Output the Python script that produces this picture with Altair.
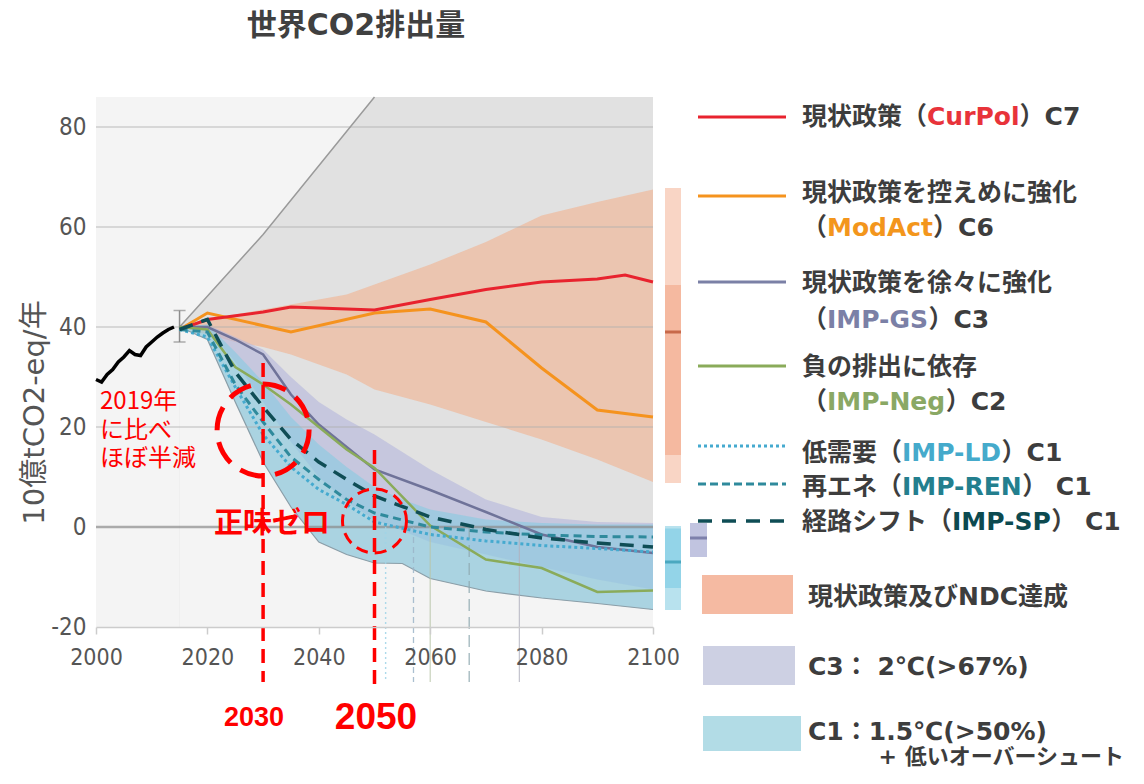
import altair as alt
import pandas as pd

# ---------------- data ----------------
hist_years = list(range(2000, 2015))
hist_vals = [29.5, 29.0, 30.5, 31.5, 33.0, 34.0, 35.3, 34.5, 34.3, 36.0, 37.0, 38.0, 38.8, 39.5, 40.0]

err_year = [2015]
err_lo = [37.0]
err_hi = [43.3]

gray_years = [2015, 2030, 2050, 2100]
gray_hi = [40.0, 58.5, 86.0, 86.0]

band_years = [2015, 2020, 2025, 2030, 2035, 2040, 2045, 2050, 2060, 2070, 2080, 2090, 2100]
ndc_hi = [40, 41.5, 42.5, 43.5, 44.5, 45.5, 46.5, 48.5, 52.5, 57.0, 62.3, 65.0, 67.5]
ndc_lo = [40, 38.5, 37.0, 36.0, 34.5, 32.5, 30.5, 27.5, 24.5, 21.0, 17.5, 13.5, 9.0]
c3_hi = [40, 40.5, 38.0, 35.5, 30.0, 25.0, 21.5, 18.5, 11.5, 5.5, 2.0, 1.0, 0.8]
c3_lo = [40, 39.5, 33.0, 25.0, 17.0, 10.0, 5.0, 1.5, -3.0, -5.5, -8.0, -10.5, -12.5]

c1_years = [2015, 2020, 2025, 2030, 2035, 2040, 2045, 2050, 2055, 2060, 2070, 2080, 2090, 2100]
c1_hi = [40, 40.5, 35.0, 29.0, 22.0, 16.5, 12.0, 8.0, 5.5, 3.5, 1.5, 0.8, 0.5, 0.5]
c1_lo = [40, 37.5, 25.0, 13.0, 4.0, -3.0, -5.5, -7.2, -7.3, -10.3, -12.8, -14.2, -15.3, -16.5]

curpol_years = [2015, 2020, 2030, 2035, 2040, 2050, 2060, 2070, 2080, 2090, 2095, 2100]
curpol_vals = [39.5, 41.5, 43.0, 44.0, 43.8, 43.4, 45.5, 47.5, 49.0, 49.6, 50.4, 49.0]
modact_years = [2015, 2020, 2035, 2050, 2060, 2070, 2080, 2090, 2100]
modact_vals = [39.5, 42.8, 39.0, 42.8, 43.6, 41.0, 31.8, 23.4, 22.0]
path_years = band_years
gs_vals = [40, 40, 37.5, 34.5, 26.5, 20.5, 16.0, 11.5, 7.4, 3.0, -1.5, -4.0, -5.2]
neg_vals = [40, 39.5, 32.0, 28.5, 24.5, 20.0, 15.5, 11.8, 0.3, -6.5, -8.2, -13.0, -12.7]
ld_vals = [39.5, 38.0, 28.0, 18.5, 12.0, 7.5, 4.5, 1.0, -1.5, -2.8, -3.7, -4.3, -5.0]
ren_vals = [39.5, 39.0, 28.5, 21.0, 14.0, 9.5, 5.5, 2.8, 0.0, -1.0, -1.6, -1.9, -2.0]
sp_vals = [39.5, 41.5, 31.0, 24.0, 17.5, 13.0, 9.5, 6.2, 2.0, -0.5, -2.2, -3.2, -4.0]

netzero_years = [2052, 2057, 2060, 2067, 2076]

# 2100 distributions (side bars): NDC, C1, C3
dist_p5 = [8.8, -16.6, -6.0]
dist_p25 = [14.4, -12.2, -6.0]
dist_p50 = [39.0, -7.0, -2.2]
dist_p75 = [48.4, -0.3, 0.8]
dist_p95 = [67.8, 0.2, 0.8]

x_ticks = [2000, 2020, 2040, 2060, 2080, 2100]
y_ticks = [-20, 0, 20, 40, 60, 80]

# ---------------- layout ----------------
W, H = 557, 530
PAD_L, PAD_T = 88, 89
PAD_R = 1128 - PAD_L - W
PAD_B = 762 - PAD_T - H
X_DOM = [2000, 2100]
Y_DOM = [-20, 86]
OX, OY = 8 + PAD_L, 8 + PAD_T


def yr(px):
    return X_DOM[0] + (px - OX) * (X_DOM[1] - X_DOM[0]) / W


def vl(py):
    return Y_DOM[1] - (py - OY) * (Y_DOM[1] - Y_DOM[0]) / H


LBL_FONT = "Liberation Sans Narrow, DejaVu Sans Condensed, sans-serif"
JP = "Noto Sans CJK JP"
MIX = "DejaVu Sans, Noto Sans CJK JP"

XS = alt.Scale(domain=X_DOM, nice=False, zero=False)
YS = alt.Scale(domain=Y_DOM, nice=False, zero=False)
XAX = alt.Axis(values=x_ticks, title=None, grid=False, labelFont=LBL_FONT, labelFontSize=23,
               labelColor="#555555", tickColor="#cccccc", tickSize=7, tickWidth=1.5,
               domainColor="#cccccc", domainWidth=1.5, labelPadding=12, labelFlush=False,
               labelExpr="'' + datum.value", zindex=1)
YAX = alt.Axis(values=y_ticks, title="10億tCO2-eq/年", grid=False, ticks=False, domain=False,
               labelFont=LBL_FONT, labelFontSize=24, labelColor="#555555", labelPadding=10,
               labelExpr="'' + datum.value",
               titleFont=MIX, titleFontSize=29, titleFontWeight="normal", titleColor="#555555",
               titleAngle=270, titleX=-62, titleY=315, titleAlign="center", titleBaseline="middle",
               zindex=1)


def X(f):
    return alt.X(f, type="quantitative", scale=XS, axis=XAX)


def Y(f):
    return alt.Y(f, type="quantitative", scale=YS, axis=YAX)


layers = []

# gray full range
gray_df = pd.DataFrame({"year": gray_years, "hi": gray_hi})
layers.append(alt.Chart(gray_df).mark_area(color="#e1e1e1").encode(x=X("year"), y=Y("hi"), y2=alt.datum(-20)))
c1_df = pd.DataFrame({"year": c1_years, "hi": c1_hi, "lo": c1_lo})
layers.append(alt.Chart(c1_df).mark_area(color="#f4f4f4").encode(x=X("year"), y=Y("lo"), y2=alt.datum(-20)))

band_df = pd.DataFrame({"year": band_years, "ndc_hi": ndc_hi, "ndc_lo": ndc_lo, "c3_hi": c3_hi, "c3_lo": c3_lo})
layers.append(alt.Chart(band_df).mark_area(color="#efb595", opacity=0.65).encode(
    x=X("year"), y=Y("ndc_hi"), y2="ndc_lo"))
layers.append(alt.Chart(band_df).mark_area(color="#b4b6dc", opacity=0.6).encode(
    x=X("year"), y=Y("c3_hi"), y2="c3_lo"))
layers.append(alt.Chart(c1_df).mark_area(color="#8ccbe0", opacity=0.65).encode(
    x=X("year"), y=Y("hi"), y2="lo"))
layers.append(alt.Chart(c1_df).mark_line(color="#8b9ea8", strokeWidth=1.2).encode(x=X("year"), y=Y("lo")))

# grid lines and zero line
grid_df = pd.DataFrame({"v": [t for t in y_ticks if t > 0]})
layers.append(alt.Chart(grid_df).mark_rule(color="#b0b0b0", opacity=0.55, strokeWidth=1.5).encode(y=Y("v")))
layers.append(alt.Chart(pd.DataFrame({"v": [0]})).mark_rule(color="#8a8a8a", opacity=0.7, strokeWidth=2.5).encode(y=Y("v")))

# gray upper edge line
layers.append(alt.Chart(gray_df.iloc[:3]).mark_line(color="#9a9a9a", strokeWidth=1.5).encode(x=X("year"), y=Y("hi")))

# net-zero year markers
nz_styles = [("#9fd3e6", [2, 3], 1.4), ("#9bb4c8", [6, 4], 1.3), ("#b8c4a8", None, 1.1),
             ("#8fa9b0", [12, 6], 1.3), ("#b0b0be", None, 1.1)]
for yv, (col, dash, sw) in zip(netzero_years, nz_styles):
    kw = dict(color=col, strokeWidth=sw, opacity=0.85)
    if dash:
        kw["strokeDash"] = dash
    d = pd.DataFrame({"year": [yv], "top": [0.0], "bot": [vl(682)]})
    layers.append(alt.Chart(d).mark_rule(**kw).encode(x=X("year"), y=Y("top"), y2="bot"))

# error bar 2015
err_df = pd.DataFrame({"year": err_year, "lo": err_lo, "hi": err_hi})
layers.append(alt.Chart(err_df).mark_rule(color="#8c8c8c", strokeWidth=1.5).encode(x=X("year"), y=Y("lo"), y2="hi"))
layers.append(alt.Chart(err_df).mark_tick(color="#8c8c8c", orient="horizontal", size=12, thickness=1.5).encode(x=X("year"), y=Y("lo")))
layers.append(alt.Chart(err_df).mark_tick(color="#8c8c8c", orient="horizontal", size=12, thickness=1.5).encode(x=X("year"), y=Y("hi")))

# historical emissions
hist_df = pd.DataFrame({"year": hist_years, "v": hist_vals})
layers.append(alt.Chart(hist_df).mark_line(color="#000000", strokeWidth=3.5).encode(x=X("year"), y=Y("v")))


# scenario pathways
def line(years, vals, color, width, dash=None):
    kw = dict(color=color, strokeWidth=width)
    if dash:
        kw["strokeDash"] = dash
    d = pd.DataFrame({"year": years, "v": vals})
    return alt.Chart(d).mark_line(**kw).encode(x=X("year"), y=Y("v"))


C_RED, C_ORG, C_GS, C_NEG = "#e8232e", "#f5931e", "#6f7399", "#8aab5a"
C_LD, C_REN, C_SP = "#45aacf", "#2f8a9c", "#0f4d55"
layers.append(line(modact_years, modact_vals, C_ORG, 3))
layers.append(line(curpol_years, curpol_vals, C_RED, 3))
layers.append(line(path_years, gs_vals, C_GS, 2.5))
layers.append(line(path_years, neg_vals, C_NEG, 2.5))
layers.append(line(path_years, ld_vals, C_LD, 3, [3, 3]))
layers.append(line(path_years, ren_vals, C_REN, 3, [8, 5]))
layers.append(line(path_years, sp_vals, C_SP, 3.5, [14, 9]))

# side bars for 2100
bar_px = [(665, 681), (665, 681), (690, 707)]
bar_cols = [("#f9d5c5", "#f5b9a0", "#c8694a"), ("#b8e2ee", "#93d4e8", "#4aa8c0"), ("#c9cbe3", "#c1c4e0", "#7d80ab")]
for i in range(3):
    a, b = bar_px[i]
    d = pd.DataFrame({"p5": [dist_p5[i]], "p25": [dist_p25[i]], "p50": [dist_p50[i]],
                      "p75": [dist_p75[i]], "p95": [dist_p95[i]]})
    lc, dc, mc = bar_cols[i]
    layers.append(alt.Chart(d).mark_rect(color=lc).encode(x=alt.value(a - OX), x2=alt.value(b - OX), y=Y("p5"), y2="p95"))
    layers.append(alt.Chart(d).mark_rect(color=dc).encode(x=alt.value(a - OX), x2=alt.value(b - OX), y=Y("p25"), y2="p75"))
    layers.append(alt.Chart(d).mark_rule(color=mc, strokeWidth=3).encode(x=alt.value(a - OX), x2=alt.value(b - OX), y=Y("p50")))

# ---------------- red annotations ----------------
RED = "#ff0000"
vd = pd.DataFrame({"year": [2030, 2050], "top": [vl(363), vl(450)], "bot": [vl(682), vl(687)]})
layers.append(alt.Chart(vd).mark_rule(color=RED, strokeWidth=3.5, strokeDash=[14, 8]).encode(x=X("year"), y=Y("top"), y2="bot"))
layers.append(alt.Chart(pd.DataFrame({"year": [2030], "v": [vl(430)]})).mark_point(
    shape="circle", filled=False, size=92 * 92, color=RED, strokeWidth=5, strokeDash=[24, 12], opacity=1).encode(x=X("year"), y=Y("v")))
layers.append(alt.Chart(pd.DataFrame({"year": [2050], "v": [vl(521)]})).mark_point(
    shape="circle", filled=False, size=64 * 64, color=RED, strokeWidth=3, strokeDash=[12, 7], opacity=1).encode(x=X("year"), y=Y("v")))

ann = pd.DataFrame({"x": [yr(100)] * 3, "y": [vl(402), vl(430.5), vl(459)], "t": ["2019年", "に比べ", "ほぼ半減"]})
layers.append(alt.Chart(ann).mark_text(font=JP, fontSize=24, color=RED, align="left", baseline="middle").encode(
    x=X("x"), y=Y("y"), text="t:N"))
layers.append(alt.Chart(pd.DataFrame({"x": [yr(272)], "y": [vl(524)], "t": ["正味ゼロ"]})).mark_text(
    font=JP, fontSize=29, fontWeight="bold", color=RED, align="center", baseline="middle").encode(x=X("x"), y=Y("y"), text="t:N"))
layers.append(alt.Chart(pd.DataFrame({"x": [yr(254)], "y": [vl(718)], "t": ["2030"]})).mark_text(
    font="Liberation Sans", fontSize=27, fontWeight="bold", color=RED, align="center", baseline="middle").encode(x=X("x"), y=Y("y"), text="t:N"))
layers.append(alt.Chart(pd.DataFrame({"x": [yr(376)], "y": [vl(718)], "t": ["2050"]})).mark_text(
    font="Liberation Sans", fontSize=37, fontWeight="bold", color=RED, align="center", baseline="middle").encode(x=X("x"), y=Y("y"), text="t:N"))

# title
layers.append(alt.Chart(pd.DataFrame({"x": [yr(356)], "y": [vl(26)], "t": ["世界CO2排出量"]})).mark_text(
    font=MIX, fontSize=30, fontWeight="bold", color="#404040", align="center", baseline="middle").encode(x=X("x"), y=Y("y"), text="t:N"))

# ---------------- legend ----------------
DARK = "#3d3d3d"
leg_lines = [(117, C_RED, None, 3), (196, C_ORG, None, 3), (282, "#7b80a6", None, 3), (366, C_NEG, None, 3),
             (446, C_LD, [3, 3], 3), (484, C_REN, [8, 4], 3), (521, C_SP, [14, 10], 3.5)]
for py, col, dash, sw in leg_lines:
    kw = dict(color=col, strokeWidth=sw)
    if dash:
        kw["strokeDash"] = dash
    d = pd.DataFrame({"x": [yr(698)], "x2": [yr(786)], "y": [vl(py)]})
    layers.append(alt.Chart(d).mark_rule(**kw).encode(x=X("x"), x2="x2", y=Y("y")))

DV_BOLD = {'C': .734, 'u': .712, 'r': .493, 'P': .733, 'o': .687, 'l': .343, 'M': .995, 'd': .716, 'A': .774,
           'c': .593, 't': .478, 'I': .372, '-': .415, 'G': .821, 'S': .720, 'N': .837, 'e': .678, 'g': .716,
           'L': .637, 'D': .830, 'R': .770, 'E': .683, ' ': .348}


def text_w(s, fs):
    w = 0.0
    for ch in s:
        if ch in DV_BOLD:
            w += DV_BOLD[ch] * fs
        elif ch.isdigit():
            w += .696 * fs
        else:
            w += fs
    return w


LEG_FS = 25
leg_rows = [
    (117, [("現状政策（", DARK), ("CurPol", "#e8333a"), ("）C7", DARK)]),
    (193, [("現状政策を控えめに強化", DARK)]),
    (228, [("（", DARK), ("ModAct", "#f3961c"), ("）C6", DARK)]),
    (283, [("現状政策を徐々に強化", DARK)]),
    (320, [("（", DARK), ("IMP-GS", "#7b80a6"), ("）C3", DARK)]),
    (367, [("負の排出に依存", DARK)]),
    (402, [("（", DARK), ("IMP-Neg", "#8aa864"), ("）C2", DARK)]),
    (453, [("低需要（", DARK), ("IMP-LD", "#45aacb"), ("）C1", DARK)]),
    (487, [("再エネ（", DARK), ("IMP-REN", "#237f8e"), ("） C1", DARK)]),
    (522, [("経路シフト（", DARK), ("IMP-SP", "#0c4a50"), ("） C1", DARK)]),
]
seg = {"x": [], "y": [], "t": [], "c": []}
for py, parts in leg_rows:
    px = 802
    for s, col in parts:
        seg["x"].append(yr(px))
        seg["y"].append(vl(py))
        seg["t"].append(s)
        seg["c"].append(col)
        px += text_w(s, LEG_FS)
layers.append(alt.Chart(pd.DataFrame(seg)).mark_text(
    font=MIX, fontSize=LEG_FS, fontWeight="bold", align="left", baseline="middle").encode(
    x=X("x"), y=Y("y"), text="t:N", color=alt.Color("c:N", scale=None)))

leg_rects = [(702, 793, 575, 614, "#f5baa2"), (703, 795, 646, 685, "#cdd0e3"), (703, 801, 716, 751, "#b2dce6")]
for x1, x2, y1, y2, col in leg_rects:
    d = pd.DataFrame({"x": [yr(x1)], "x2": [yr(x2)], "y": [vl(y1)], "y2": [vl(y2)]})
    layers.append(alt.Chart(d).mark_rect(color=col).encode(x=X("x"), x2="x2", y=Y("y"), y2="y2"))

area_txt = pd.DataFrame({"x": [yr(808)] * 3, "y": [vl(597), vl(667), vl(732)],
                         "t": ["現状政策及びNDC達成", "C3： 2℃(>67%)", "C1：1.5℃(>50%)"]})
layers.append(alt.Chart(area_txt).mark_text(font=MIX, fontSize=25, fontWeight="bold", color=DARK,
                                            align="left", baseline="middle").encode(x=X("x"), y=Y("y"), text="t:N"))
layers.append(alt.Chart(pd.DataFrame({"x": [yr(1124)], "y": [vl(757)], "t": ["+ 低いオーバーシュート"]})).mark_text(
    font=MIX, fontSize=22, fontWeight="bold", color=DARK, align="right", baseline="middle").encode(x=X("x"), y=Y("y"), text="t:N"))

chart = alt.layer(*layers).properties(
    width=W, height=H,
    autosize=alt.AutoSizeParams(type="none"),
    padding={"left": PAD_L, "top": PAD_T, "right": PAD_R, "bottom": PAD_B},
    background="#ffffff",
).configure_view(fill="#f4f4f4", stroke=None)

chart.save("out.html", embed_options={"renderer": "svg", "actions": False})
